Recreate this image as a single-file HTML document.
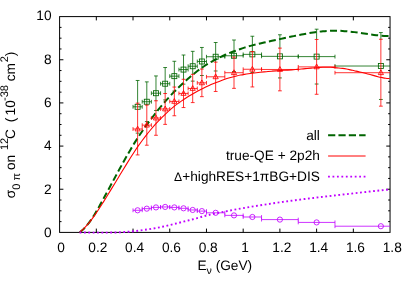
<!DOCTYPE html>
<html><head><meta charset="utf-8"><title>plot</title><style>html,body{margin:0;padding:0;background:#fff;}body{width:415px;height:291px;position:relative;overflow:hidden;font-family:"Liberation Sans",sans-serif;}</style></head><body>
<svg width="415" height="291" viewBox="0 0 415 291" style="position:absolute;left:0;top:0;will-change:transform">
<defs><clipPath id="cp"><rect x="59.60" y="16.60" width="330.45" height="215.80"/></clipPath></defs>
<rect width="415" height="291" fill="#fff"/>
<g stroke="#000" stroke-width="1" fill="none">
<rect x="59.60" y="16.60" width="330.45" height="215.80"/>
<path d="M96.32,232.40v-3.8M96.32,16.60v3.8"/>
<path d="M133.03,232.40v-3.8M133.03,16.60v3.8"/>
<path d="M169.75,232.40v-3.8M169.75,16.60v3.8"/>
<path d="M206.47,232.40v-3.8M206.47,16.60v3.8"/>
<path d="M243.18,232.40v-3.8M243.18,16.60v3.8"/>
<path d="M279.90,232.40v-3.8M279.90,16.60v3.8"/>
<path d="M316.62,232.40v-3.8M316.62,16.60v3.8"/>
<path d="M353.33,232.40v-3.8M353.33,16.60v3.8"/>
<path d="M59.60,221.61h1.90M390.05,221.61h-1.90"/>
<path d="M59.60,210.82h1.90M390.05,210.82h-1.90"/>
<path d="M59.60,200.03h1.90M390.05,200.03h-1.90"/>
<path d="M59.60,189.24h3.80M390.05,189.24h-3.80"/>
<path d="M59.60,178.45h1.90M390.05,178.45h-1.90"/>
<path d="M59.60,167.66h1.90M390.05,167.66h-1.90"/>
<path d="M59.60,156.87h1.90M390.05,156.87h-1.90"/>
<path d="M59.60,146.08h3.80M390.05,146.08h-3.80"/>
<path d="M59.60,135.29h1.90M390.05,135.29h-1.90"/>
<path d="M59.60,124.50h1.90M390.05,124.50h-1.90"/>
<path d="M59.60,113.71h1.90M390.05,113.71h-1.90"/>
<path d="M59.60,102.92h3.80M390.05,102.92h-3.80"/>
<path d="M59.60,92.13h1.90M390.05,92.13h-1.90"/>
<path d="M59.60,81.34h1.90M390.05,81.34h-1.90"/>
<path d="M59.60,70.55h1.90M390.05,70.55h-1.90"/>
<path d="M59.60,59.76h3.80M390.05,59.76h-3.80"/>
<path d="M59.60,48.97h1.90M390.05,48.97h-1.90"/>
<path d="M59.60,38.18h1.90M390.05,38.18h-1.90"/>
<path d="M59.60,27.39h1.90M390.05,27.39h-1.90"/>
</g>
<g stroke="#006400" stroke-width="0.8" fill="none" clip-path="url(#cp)"><path d="M137.62,80.48V103.44M135.72,80.48h3.80M135.72,133.13h3.80"/><path d="M133.03,106.80H142.21M133.03,104.90v3.80M142.21,104.90v3.80"/><path d="M146.80,81.88V105.38M144.90,81.88h3.80M144.90,121.59h3.80"/><path d="M142.21,101.73H151.39M142.21,99.83v3.80M151.39,99.83v3.80"/><path d="M155.98,75.94V101.06M154.08,75.94h3.80M154.08,110.47h3.80"/><path d="M151.39,93.21H160.57M151.39,91.31v3.80M160.57,91.31v3.80"/><path d="M165.16,67.53V93.83M163.26,67.53h3.80M163.26,99.90h3.80"/><path d="M160.57,83.71H169.75M160.57,81.81v3.80M169.75,81.81v3.80"/><path d="M174.34,61.27V87.36M172.44,61.27h3.80M172.44,91.05h3.80"/><path d="M169.75,76.16H178.93M169.75,74.26v3.80M178.93,74.26v3.80"/><path d="M183.52,55.01V79.59M181.62,55.01h3.80M181.62,84.15h3.80"/><path d="M178.93,69.58H188.11M178.93,67.68v3.80M188.11,67.68v3.80"/><path d="M192.70,51.34V74.63M190.80,51.34h3.80M190.80,81.12h3.80"/><path d="M188.11,66.23H197.29M188.11,64.33v3.80M197.29,64.33v3.80"/><path d="M201.88,47.46V69.34M199.98,47.46h3.80M199.98,75.51h3.80"/><path d="M197.29,61.49H206.47M197.29,59.59v3.80M206.47,59.59v3.80"/><path d="M215.65,42.50V62.43M213.75,42.50h3.80M213.75,70.98h3.80"/><path d="M206.47,56.74H224.82M206.47,54.84v3.80M224.82,54.84v3.80"/><path d="M234.00,40.01V57.36M232.10,40.01h3.80M232.10,71.52h3.80"/><path d="M224.82,55.77H243.18M224.82,53.87v3.80M243.18,53.87v3.80"/><path d="M252.36,36.24V51.86M250.46,36.24h3.80M250.46,72.49h3.80"/><path d="M243.18,54.36H261.54M243.18,52.46v3.80M261.54,52.46v3.80"/><path d="M279.90,34.77V48.41M278.00,34.77h3.80M278.00,77.93h3.80"/><path d="M261.54,56.35H298.26M261.54,54.45v3.80M298.26,54.45v3.80"/><path d="M316.62,29.20V39.77M314.72,29.20h3.80M314.72,84.02h3.80"/><path d="M298.26,56.61H334.97M298.26,54.71v3.80M334.97,54.71v3.80"/><path d="M380.87,32.57V39.56M378.97,32.57h3.80M378.97,99.47h3.80"/><path d="M334.97,66.02H426.77M334.97,64.12v3.80M426.77,64.12v3.80"/></g>
<g stroke="#006400" stroke-width="0.85" fill="none" clip-path="url(#cp)">
<rect x="135.12" y="104.30" width="5" height="5"/>
<rect x="144.30" y="99.23" width="5" height="5"/>
<rect x="153.48" y="90.71" width="5" height="5"/>
<rect x="162.66" y="81.21" width="5" height="5"/>
<rect x="171.84" y="73.66" width="5" height="5"/>
<rect x="181.02" y="67.08" width="5" height="5"/>
<rect x="190.20" y="63.73" width="5" height="5"/>
<rect x="199.38" y="58.99" width="5" height="5"/>
<rect x="213.15" y="54.24" width="5" height="5"/>
<rect x="231.50" y="53.27" width="5" height="5"/>
<rect x="249.86" y="51.86" width="5" height="5"/>
<rect x="277.40" y="53.85" width="5" height="5"/>
<rect x="314.12" y="54.11" width="5" height="5"/>
<rect x="378.37" y="63.52" width="5" height="5"/>
</g>
<path d="M79.60,232.30 C80.25,231.77 82.22,230.39 83.53,229.13 C84.83,227.87 86.14,226.37 87.45,224.74 C88.76,223.12 90.07,221.29 91.38,219.36 C92.68,217.43 93.99,215.34 95.30,213.19 C96.61,211.04 97.92,208.76 99.23,206.45 C100.54,204.15 101.84,201.76 103.15,199.37 C104.46,196.98 105.77,194.55 107.08,192.13 C108.39,189.71 109.69,187.27 111.00,184.83 C112.31,182.40 113.62,179.96 114.93,177.53 C116.24,175.11 117.54,172.68 118.85,170.28 C120.16,167.88 121.47,165.49 122.78,163.14 C124.09,160.78 125.40,158.45 126.70,156.15 C128.01,153.86 129.32,151.60 130.63,149.38 C131.94,147.17 133.25,144.97 134.55,142.87 C135.86,140.76 137.17,138.73 138.48,136.75 C139.79,134.76 141.10,132.85 142.41,130.96 C143.71,129.08 145.02,127.23 146.33,125.42 C147.64,123.62 148.95,121.86 150.26,120.13 C151.56,118.39 152.87,116.69 154.18,115.00 C155.49,113.30 156.80,111.58 158.11,109.94 C159.41,108.30 160.72,106.70 162.03,105.14 C163.34,103.59 164.65,102.08 165.96,100.61 C167.27,99.13 168.57,97.70 169.88,96.29 C171.19,94.88 172.50,93.51 173.81,92.16 C175.12,90.81 176.42,89.49 177.73,88.21 C179.04,86.92 180.35,85.68 181.66,84.46 C182.97,83.25 184.28,82.09 185.58,80.92 C186.89,79.76 188.20,78.58 189.51,77.46 C190.82,76.33 192.13,75.24 193.43,74.17 C194.74,73.11 196.05,72.08 197.36,71.08 C198.67,70.08 199.98,69.11 201.28,68.18 C202.59,67.24 203.90,66.32 205.21,65.47 C206.52,64.61 207.83,63.82 209.14,63.05 C210.44,62.27 211.75,61.52 213.06,60.80 C214.37,60.07 215.68,59.38 216.99,58.71 C218.29,58.04 219.60,57.40 220.91,56.78 C222.22,56.15 223.53,55.56 224.84,54.98 C226.15,54.41 227.45,53.85 228.76,53.32 C230.07,52.79 231.38,52.28 232.69,51.78 C234.00,51.28 235.30,50.80 236.61,50.33 C237.92,49.86 239.23,49.39 240.54,48.95 C241.85,48.50 243.15,48.08 244.46,47.66 C245.77,47.24 247.08,46.84 248.39,46.45 C249.70,46.07 251.01,45.71 252.31,45.36 C253.62,45.02 254.93,44.69 256.24,44.37 C257.55,44.05 258.86,43.73 260.16,43.42 C261.47,43.12 262.78,42.82 264.09,42.52 C265.40,42.22 266.71,41.94 268.02,41.65 C269.32,41.36 270.63,41.08 271.94,40.80 C273.25,40.52 274.56,40.24 275.87,39.96 C277.17,39.68 278.48,39.40 279.79,39.12 C281.10,38.84 282.41,38.56 283.72,38.27 C285.02,37.99 286.33,37.71 287.64,37.42 C288.95,37.14 290.26,36.86 291.57,36.58 C292.88,36.30 294.18,36.02 295.49,35.75 C296.80,35.48 298.11,35.21 299.42,34.94 C300.73,34.68 302.03,34.43 303.34,34.18 C304.65,33.93 305.96,33.69 307.27,33.46 C308.58,33.23 309.89,33.01 311.19,32.80 C312.50,32.59 313.81,32.39 315.12,32.21 C316.43,32.03 317.74,31.85 319.04,31.70 C320.35,31.54 321.66,31.40 322.97,31.28 C324.28,31.15 325.59,31.04 326.89,30.96 C328.20,30.87 329.51,30.80 330.82,30.75 C332.13,30.70 333.44,30.67 334.75,30.66 C336.05,30.65 337.36,30.67 338.67,30.70 C339.98,30.74 341.29,30.81 342.60,30.89 C343.90,30.97 345.21,31.08 346.52,31.21 C347.83,31.33 349.14,31.47 350.45,31.63 C351.76,31.78 353.06,31.95 354.37,32.13 C355.68,32.30 356.99,32.49 358.30,32.68 C359.61,32.87 360.91,33.07 362.22,33.26 C363.53,33.46 364.84,33.66 366.15,33.85 C367.46,34.04 368.76,34.23 370.07,34.41 C371.38,34.59 372.69,34.76 374.00,34.92 C375.31,35.08 376.62,35.24 377.92,35.37 C379.23,35.50 380.54,35.62 381.85,35.71 C383.16,35.80 384.47,35.88 385.77,35.93 C387.08,35.98 389.05,35.99 389.70,36.00" stroke="#006400" stroke-width="2.0" fill="none" stroke-dasharray="7 3.35"/>
<g stroke="#ff0000" stroke-width="0.8" fill="none" clip-path="url(#cp)"><path d="M137.62,103.14V154.93M135.72,103.14h3.80M135.72,154.93h3.80"/><path d="M133.03,129.03H142.21M133.03,127.13v3.80M142.21,127.13v3.80"/><path d="M146.80,105.08V145.22M144.90,105.08h3.80M144.90,145.22h3.80"/><path d="M142.21,125.15H151.39M142.21,123.25v3.80M151.39,123.25v3.80"/><path d="M155.98,100.76V135.29M154.08,100.76h3.80M154.08,135.29h3.80"/><path d="M151.39,118.03H160.57M151.39,116.13v3.80M160.57,116.13v3.80"/><path d="M165.16,93.53V124.39M163.26,93.53h3.80M163.26,124.39h3.80"/><path d="M160.57,108.96H169.75M160.57,107.06v3.80M169.75,107.06v3.80"/><path d="M174.34,87.06V115.76M172.44,87.06h3.80M172.44,115.76h3.80"/><path d="M169.75,101.41H178.93M169.75,99.51v3.80M178.93,99.51v3.80"/><path d="M183.52,79.29V107.56M181.62,79.29h3.80M181.62,107.56h3.80"/><path d="M178.93,93.42H188.11M178.93,91.52v3.80M188.11,91.52v3.80"/><path d="M192.70,74.33V102.60M190.80,74.33h3.80M190.80,102.60h3.80"/><path d="M188.11,88.46H197.29M188.11,86.56v3.80M197.29,86.56v3.80"/><path d="M201.88,69.04V96.66M199.98,69.04h3.80M199.98,96.66h3.80"/><path d="M197.29,82.85H206.47M197.29,80.95v3.80M206.47,80.95v3.80"/><path d="M215.65,62.13V91.48M213.75,62.13h3.80M213.75,91.48h3.80"/><path d="M206.47,76.81H224.82M206.47,74.91v3.80M224.82,74.91v3.80"/><path d="M234.00,57.06V88.35M232.10,57.06h3.80M232.10,88.35h3.80"/><path d="M224.82,72.71H243.18M224.82,70.81v3.80M243.18,70.81v3.80"/><path d="M252.36,51.56V86.95M250.46,51.56h3.80M250.46,86.95h3.80"/><path d="M243.18,69.26H261.54M243.18,67.36v3.80M261.54,67.36v3.80"/><path d="M279.90,48.11V90.84M278.00,48.11h3.80M278.00,90.84h3.80"/><path d="M261.54,69.47H298.26M261.54,67.57v3.80M298.26,67.57v3.80"/><path d="M316.62,39.47V94.29M314.72,39.47h3.80M314.72,94.29h3.80"/><path d="M298.26,66.88H334.97M298.26,64.98v3.80M334.97,64.98v3.80"/><path d="M380.87,39.26V106.16M378.97,39.26h3.80M378.97,106.16h3.80"/><path d="M334.97,72.71H426.77M334.97,70.81v3.80M426.77,70.81v3.80"/></g>
<g stroke="#ff0000" stroke-width="0.85" fill="none" clip-path="url(#cp)">
<path d="M137.62,126.13L135.02,130.93L140.22,130.93Z"/>
<path d="M146.80,122.25L144.20,127.05L149.40,127.05Z"/>
<path d="M155.98,115.13L153.38,119.93L158.58,119.93Z"/>
<path d="M165.16,106.06L162.56,110.86L167.76,110.86Z"/>
<path d="M174.34,98.51L171.74,103.31L176.94,103.31Z"/>
<path d="M183.52,90.52L180.92,95.32L186.12,95.32Z"/>
<path d="M192.70,85.56L190.10,90.36L195.30,90.36Z"/>
<path d="M201.88,79.95L199.28,84.75L204.48,84.75Z"/>
<path d="M215.65,73.91L213.05,78.71L218.25,78.71Z"/>
<path d="M234.00,69.81L231.40,74.61L236.60,74.61Z"/>
<path d="M252.36,66.36L249.76,71.16L254.96,71.16Z"/>
<path d="M279.90,66.57L277.30,71.37L282.50,71.37Z"/>
<path d="M316.62,63.98L314.02,68.78L319.22,68.78Z"/>
<path d="M380.87,69.81L378.27,74.61L383.47,74.61Z"/>
</g>
<g stroke="#c000ff" stroke-width="0.8" fill="none" clip-path="url(#cp)"><path d="M133.03,210.30H142.21M133.03,208.40v3.80M142.21,208.40v3.80"/><path d="M142.21,208.66H151.39M142.21,206.76v3.80M151.39,206.76v3.80"/><path d="M151.39,207.41H160.57M151.39,205.51v3.80M160.57,205.51v3.80"/><path d="M160.57,206.94H169.75M160.57,205.04v3.80M169.75,205.04v3.80"/><path d="M169.75,207.41H178.93M169.75,205.51v3.80M178.93,205.51v3.80"/><path d="M178.93,208.30H188.11M178.93,206.40v3.80M188.11,206.40v3.80"/><path d="M188.11,209.96H197.29M188.11,208.06v3.80M197.29,208.06v3.80"/><path d="M197.29,211.10H206.47M197.29,209.20v3.80M206.47,209.20v3.80"/><path d="M206.47,212.81H224.82M206.47,210.91v3.80M224.82,210.91v3.80"/><path d="M224.82,215.39H243.18M224.82,213.49v3.80M243.18,213.49v3.80"/><path d="M243.18,216.99H261.54M243.18,215.09v3.80M261.54,215.09v3.80"/><path d="M261.54,219.60H298.26M261.54,217.70v3.80M298.26,217.70v3.80"/><path d="M298.26,222.41H334.97M298.26,220.51v3.80M334.97,220.51v3.80"/><path d="M334.97,226.21H426.77M334.97,224.31v3.80M426.77,224.31v3.80"/></g>
<g stroke="#c000ff" stroke-width="0.85" fill="none" clip-path="url(#cp)">
<circle cx="137.62" cy="210.30" r="2.6"/>
<circle cx="146.80" cy="208.66" r="2.6"/>
<circle cx="155.98" cy="207.41" r="2.6"/>
<circle cx="165.16" cy="206.94" r="2.6"/>
<circle cx="174.34" cy="207.41" r="2.6"/>
<circle cx="183.52" cy="208.30" r="2.6"/>
<circle cx="192.70" cy="209.96" r="2.6"/>
<circle cx="201.88" cy="211.10" r="2.6"/>
<circle cx="215.65" cy="212.81" r="2.6"/>
<circle cx="234.00" cy="215.39" r="2.6"/>
<circle cx="252.36" cy="216.99" r="2.6"/>
<circle cx="279.90" cy="219.60" r="2.6"/>
<circle cx="316.62" cy="222.41" r="2.6"/>
<circle cx="380.87" cy="226.21" r="2.6"/>
</g>
<path d="M79.60,232.31 C80.25,231.74 82.22,230.17 83.53,228.90 C84.83,227.63 86.14,226.20 87.45,224.69 C88.76,223.17 90.07,221.53 91.38,219.81 C92.68,218.09 93.99,216.26 95.30,214.38 C96.61,212.50 97.92,210.53 99.23,208.53 C100.54,206.53 101.84,204.46 103.15,202.38 C104.46,200.31 105.77,198.18 107.08,196.06 C108.39,193.94 109.69,191.79 111.00,189.64 C112.31,187.49 113.62,185.33 114.93,183.17 C116.24,181.01 117.54,178.84 118.85,176.68 C120.16,174.53 121.47,172.37 122.78,170.23 C124.09,168.09 125.40,165.95 126.70,163.84 C128.01,161.74 129.32,159.64 130.63,157.58 C131.94,155.51 133.25,153.45 134.55,151.46 C135.86,149.48 137.17,147.56 138.48,145.69 C139.79,143.82 141.10,142.01 142.41,140.24 C143.71,138.47 145.02,136.74 146.33,135.07 C147.64,133.41 148.95,131.79 150.26,130.23 C151.56,128.66 152.87,127.13 154.18,125.67 C155.49,124.20 156.80,122.82 158.11,121.45 C159.41,120.07 160.72,118.73 162.03,117.41 C163.34,116.09 164.65,114.79 165.96,113.55 C167.27,112.30 168.57,111.10 169.88,109.96 C171.19,108.81 172.50,107.72 173.81,106.67 C175.12,105.62 176.42,104.63 177.73,103.66 C179.04,102.69 180.35,101.76 181.66,100.86 C182.97,99.96 184.28,99.10 185.58,98.25 C186.89,97.41 188.20,96.60 189.51,95.81 C190.82,95.02 192.13,94.26 193.43,93.52 C194.74,92.77 196.05,92.05 197.36,91.34 C198.67,90.64 199.98,89.95 201.28,89.28 C202.59,88.61 203.90,87.95 205.21,87.31 C206.52,86.68 207.83,86.06 209.14,85.47 C210.44,84.88 211.75,84.32 213.06,83.78 C214.37,83.23 215.68,82.70 216.99,82.18 C218.29,81.67 219.60,81.16 220.91,80.68 C222.22,80.19 223.53,79.73 224.84,79.29 C226.15,78.85 227.45,78.43 228.76,78.04 C230.07,77.64 231.38,77.27 232.69,76.92 C234.00,76.57 235.30,76.24 236.61,75.93 C237.92,75.63 239.23,75.34 240.54,75.08 C241.85,74.81 243.15,74.57 244.46,74.34 C245.77,74.12 247.08,73.91 248.39,73.72 C249.70,73.52 251.01,73.34 252.31,73.18 C253.62,73.02 254.93,72.87 256.24,72.73 C257.55,72.58 258.86,72.44 260.16,72.29 C261.47,72.15 262.78,72.01 264.09,71.88 C265.40,71.75 266.71,71.62 268.02,71.51 C269.32,71.39 270.63,71.28 271.94,71.17 C273.25,71.06 274.56,70.95 275.87,70.85 C277.17,70.75 278.48,70.63 279.79,70.54 C281.10,70.45 282.41,70.40 283.72,70.32 C285.02,70.25 286.33,70.17 287.64,70.09 C288.95,70.01 290.26,69.93 291.57,69.84 C292.88,69.74 294.18,69.65 295.49,69.54 C296.80,69.43 298.11,69.31 299.42,69.20 C300.73,69.08 302.03,68.95 303.34,68.83 C304.65,68.71 305.96,68.58 307.27,68.46 C308.58,68.34 309.89,68.23 311.19,68.12 C312.50,68.00 313.81,67.87 315.12,67.76 C316.43,67.66 317.74,67.56 319.04,67.48 C320.35,67.41 321.66,67.34 322.97,67.30 C324.28,67.26 325.59,67.23 326.89,67.24 C328.20,67.24 329.51,67.27 330.82,67.32 C332.13,67.38 333.44,67.48 334.75,67.58 C336.05,67.68 337.36,67.79 338.67,67.93 C339.98,68.06 341.29,68.22 342.60,68.41 C343.90,68.59 345.21,68.79 346.52,69.03 C347.83,69.28 349.14,69.59 350.45,69.88 C351.76,70.17 353.06,70.50 354.37,70.79 C355.68,71.08 356.99,71.35 358.30,71.65 C359.61,71.95 360.91,72.26 362.22,72.58 C363.53,72.90 364.84,73.25 366.15,73.57 C367.46,73.89 368.76,74.17 370.07,74.51 C371.38,74.85 372.69,75.26 374.00,75.61 C375.31,75.97 376.62,76.35 377.92,76.66 C379.23,76.98 380.54,77.26 381.85,77.52 C383.16,77.78 384.47,78.05 385.77,78.22 C387.08,78.39 389.05,78.50 389.70,78.56" stroke="#ff0000" stroke-width="1.1" fill="none"/>
<path d="M79.60,232.57 C80.35,232.57 82.60,232.56 84.10,232.56 C85.60,232.56 87.10,232.56 88.59,232.57 C90.09,232.58 91.59,232.59 93.09,232.59 C94.59,232.60 96.09,232.61 97.59,232.62 C99.09,232.62 100.59,232.63 102.09,232.63 C103.58,232.63 105.08,232.62 106.58,232.61 C108.08,232.60 109.58,232.59 111.08,232.56 C112.58,232.53 114.08,232.50 115.58,232.45 C117.08,232.41 118.57,232.35 120.07,232.29 C121.57,232.22 123.07,232.14 124.57,232.04 C126.07,231.94 127.57,231.83 129.07,231.71 C130.57,231.58 132.07,231.43 133.57,231.27 C135.06,231.11 136.56,230.92 138.06,230.73 C139.56,230.54 141.06,230.35 142.56,230.15 C144.06,229.94 145.56,229.74 147.06,229.52 C148.56,229.30 150.05,229.06 151.55,228.81 C153.05,228.56 154.55,228.30 156.05,228.03 C157.55,227.75 159.05,227.48 160.55,227.16 C162.05,226.85 163.55,226.50 165.04,226.16 C166.54,225.81 168.04,225.46 169.54,225.10 C171.04,224.75 172.54,224.38 174.04,224.01 C175.54,223.65 177.04,223.27 178.54,222.90 C180.04,222.52 181.53,222.14 183.03,221.77 C184.53,221.39 186.03,221.00 187.53,220.63 C189.03,220.25 190.53,219.88 192.03,219.49 C193.53,219.10 195.03,218.71 196.52,218.30 C198.02,217.89 199.52,217.45 201.02,217.02 C202.52,216.60 204.02,216.17 205.52,215.78 C207.02,215.38 208.52,215.03 210.02,214.68 C211.51,214.33 213.01,214.00 214.51,213.68 C216.01,213.35 217.51,213.03 219.01,212.71 C220.51,212.40 222.01,212.09 223.51,211.79 C225.01,211.49 226.51,211.19 228.00,210.90 C229.50,210.61 231.00,210.32 232.50,210.04 C234.00,209.76 235.50,209.48 237.00,209.21 C238.50,208.93 240.00,208.67 241.50,208.40 C242.99,208.14 244.49,207.88 245.99,207.62 C247.49,207.37 248.99,207.12 250.49,206.87 C251.99,206.62 253.49,206.37 254.99,206.13 C256.49,205.89 257.99,205.65 259.48,205.41 C260.98,205.17 262.48,204.94 263.98,204.71 C265.48,204.47 266.98,204.24 268.48,204.02 C269.98,203.79 271.48,203.57 272.98,203.35 C274.47,203.13 275.97,202.91 277.47,202.69 C278.97,202.47 280.47,202.26 281.97,202.05 C283.47,201.84 284.97,201.63 286.47,201.42 C287.97,201.22 289.46,201.01 290.96,200.81 C292.46,200.61 293.96,200.41 295.46,200.21 C296.96,200.01 298.46,199.82 299.96,199.63 C301.46,199.43 302.96,199.24 304.46,199.05 C305.95,198.86 307.45,198.68 308.95,198.49 C310.45,198.31 311.95,198.12 313.45,197.94 C314.95,197.76 316.45,197.58 317.95,197.40 C319.45,197.23 320.94,197.05 322.44,196.87 C323.94,196.70 325.44,196.52 326.94,196.35 C328.44,196.18 329.94,196.01 331.44,195.84 C332.94,195.66 334.44,195.49 335.93,195.32 C337.43,195.16 338.93,194.99 340.43,194.82 C341.93,194.65 343.43,194.48 344.93,194.31 C346.43,194.15 347.93,193.98 349.43,193.81 C350.93,193.65 352.42,193.48 353.92,193.31 C355.42,193.14 356.92,192.98 358.42,192.81 C359.92,192.64 361.42,192.47 362.92,192.31 C364.42,192.14 365.92,191.97 367.41,191.80 C368.91,191.64 370.41,191.47 371.91,191.31 C373.41,191.14 374.91,190.98 376.41,190.82 C377.91,190.66 379.41,190.50 380.91,190.35 C382.40,190.20 383.90,190.04 385.40,189.90 C386.90,189.75 389.15,189.53 389.90,189.46" stroke="#c000ff" stroke-width="1.9" fill="none" stroke-dasharray="1.8 2.57"/>
<path d="M328.1,135.2H365.6" stroke="#006400" stroke-width="2.0" stroke-dasharray="7.2 3.15"/>
<path d="M328.1,156H365.6" stroke="#ff0000" stroke-width="1"/>
<path d="M328.05,176.65H365.6" stroke="#c000ff" stroke-width="1.9" stroke-dasharray="1.8 2.65"/>
<g text-rendering="geometricPrecision" font-family="Liberation Sans, sans-serif" font-size="13.7" fill="#000">
<text x="61.00" y="251.5" text-anchor="middle">0</text>
<text x="97.81" y="251.5" text-anchor="middle">0.2</text>
<text x="134.61" y="251.5" text-anchor="middle">0.4</text>
<text x="171.42" y="251.5" text-anchor="middle">0.6</text>
<text x="208.23" y="251.5" text-anchor="middle">0.8</text>
<text x="245.03" y="251.5" text-anchor="middle">1</text>
<text x="281.84" y="251.5" text-anchor="middle">1.2</text>
<text x="318.65" y="251.5" text-anchor="middle">1.4</text>
<text x="355.45" y="251.5" text-anchor="middle">1.6</text>
<text x="392.26" y="251.5" text-anchor="middle">1.8</text>
<text x="51.5" y="237.05" text-anchor="end">0</text>
<text x="51.5" y="193.72" text-anchor="end">2</text>
<text x="51.5" y="150.39" text-anchor="end">4</text>
<text x="51.5" y="107.06" text-anchor="end">6</text>
<text x="51.5" y="63.73" text-anchor="end">8</text>
<text x="51.5" y="20.40" text-anchor="end">10</text>
<text x="319.9" y="139.9" text-anchor="end">all</text>
<text x="319.9" y="159.9" text-anchor="end">true-QE + 2p2h</text>
<text x="319.9" y="180.6" text-anchor="end"><tspan font-size="12.2">Δ</tspan>+highRES+1πBG+DIS</text>
<text x="224.8" y="270.2" text-anchor="middle">E<tspan font-size="10.6" dy="3.5">ν</tspan><tspan dy="-3.5"> (GeV)</tspan></text>
<g transform="translate(15.20,0) rotate(-90)">
<text x="-198.20" y="0.00" font-size="13.7">σ</text>
<text x="-189.80" y="4.80" font-size="11.0">0</text>
<text x="-180.40" y="4.70" font-size="11.0">π</text>
<text x="-170.00" y="0.00" font-size="13.7">on</text>
<text x="-150.00" y="-6.80" font-size="11.0">12</text>
<text x="-139.00" y="0.00" font-size="13.7">C</text>
<text x="-122.30" y="0.00" font-size="13.7">(</text>
<text x="-115.40" y="0.00" font-size="13.7">10</text>
<text x="-101.00" y="-6.80" font-size="11.0">-38</text>
<text x="-81.30" y="0.00" font-size="13.7">cm</text>
<text x="-62.20" y="-6.80" font-size="11.0">2</text>
<text x="-56.20" y="0.00" font-size="13.7">)</text>
</g>
</g>
</svg>
</body></html>
